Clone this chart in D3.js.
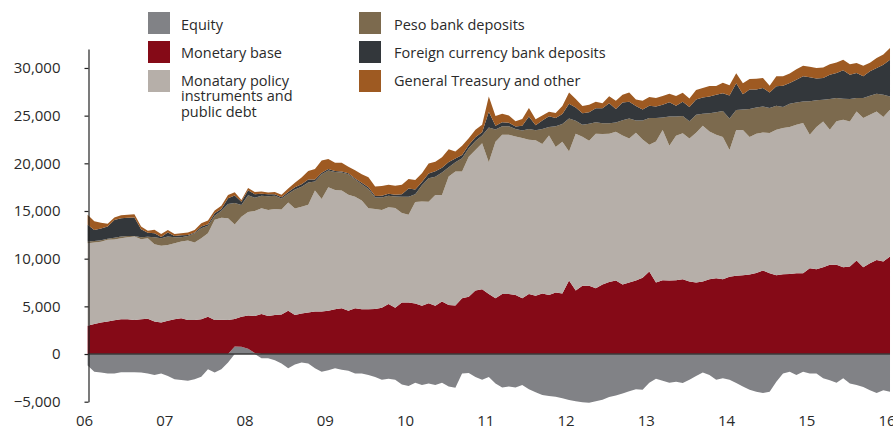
<!DOCTYPE html>
<html>
<head>
<meta charset="utf-8">
<script src="https://cdn.jsdelivr.net/npm/d3@7"></script>
<style>
  html, body { margin: 0; padding: 0; background: #ffffff; }
  svg { display: block; }
  text { font-family: "Open Sans", "DejaVu Sans", sans-serif; fill: #2a2a2a; }
</style>
</head>
<body>
<svg id="chart" width="893" height="430"></svg>
<script>
// ---------------- DATA (monthly, Jan 2006 – Jan 2016) ----------------
const startYear = 2006;
const yearLabels = ["06","07","08","09","10","11","12","13","14","15","16"];
const yTicks = [-5000, 0, 5000, 10000, 15000, 20000, 25000, 30000];

const seriesNames = ["Equity", "Monetary base", "Monatary policy instruments and public debt",
  "Peso bank deposits", "Foreign currency bank deposits", "General Treasury and other"];

const equity = [-1200,-1850,-1950,-2030,-2030,-1900,-1900,-1900,-1950,-2030,-2200,-2030,
  -2300,-2650,-2730,-2800,-2650,-2380,-1600,-1950,-1600,-900,800,750,
  550,100,-450,-450,-650,-1000,-1500,-1100,-900,-1000,-1500,-1850,
  -1700,-1500,-1650,-1750,-2030,-2030,-2200,-2400,-2700,-2600,-2700,-3200,
  -3350,-3000,-3250,-3100,-3250,-3000,-3400,-3550,-2050,-2000,-2400,-2700,
  -2400,-3100,-3500,-3400,-3500,-3250,-3700,-4000,-4300,-4400,-4480,-4650,
  -4830,-4950,-5050,-5100,-4950,-4800,-4500,-4350,-4150,-3900,-3700,-3750,
  -3000,-2600,-2800,-3000,-2900,-3050,-2700,-2300,-1950,-2200,-2700,-2550,
  -2700,-3050,-3400,-3750,-3950,-4100,-3950,-2900,-2050,-1850,-2200,-1850,
  -2050,-2050,-2550,-2750,-3000,-2550,-3100,-3250,-3450,-3800,-4100,-3800,
  -3950];

const monetaryBase = [2975,3150,3300,3400,3550,3640,3640,3570,3640,3700,3400,3300,
  3500,3640,3750,3570,3570,3640,3920,3570,3600,3570,2870,3150,
  3500,3900,4200,4000,4100,4150,4550,4100,4250,4350,4450,4450,
  4550,4700,4800,4550,4800,4700,4700,4720,4860,5250,4860,5400,
  5400,5300,5050,5320,5050,5500,5150,5100,5850,6000,6650,6800,
  6300,5850,6300,6300,6200,5850,6300,6100,6350,6200,6450,6350,
  7700,6650,7150,7150,6900,7300,7550,7700,7300,7500,7700,8000,
  8650,7500,7750,7700,7750,7850,7600,7500,7600,7850,7950,7850,
  8100,8200,8250,8350,8500,8750,8470,8260,8365,8400,8470,8470,
  9000,8900,9100,9350,9350,9100,9170,9800,9100,9520,9870,9700,
  10220];

const policyDebt = [8645,8540,8470,8575,8470,8505,8610,8750,8400,8435,8120,8050,
  7945,7980,8050,8330,8120,8505,8750,10500,10680,10675,9905,10500,
  10850,11000,11100,11100,11100,11000,11350,11150,11200,11300,12700,11800,
  12950,12500,12350,12150,11700,11400,10600,10500,10250,10150,10450,9400,
  9200,10650,10950,10660,11640,11190,13460,14050,13280,14690,14760,15310,
  13800,16400,16700,16700,16600,16800,16170,16310,15680,16730,15260,15925,
  13545,16450,15645,15225,16205,15785,15540,15610,15610,15100,15500,14500,
  13300,14800,15750,14150,15150,15300,15000,15700,16350,15500,15050,14900,
  13300,15300,15250,14400,14600,14490,14700,15260,15330,15400,15575,15750,
  14000,14910,15295,14175,15050,15470,15225,15645,15645,15575,15575,15155,
  15400];

const pesoDeposits = [175,175,175,105,175,175,140,70,210,175,735,805,
  875,630,455,490,980,1050,770,420,750,1500,2275,1225,
  1750,1400,1300,1450,1400,1150,900,2000,2100,2350,950,2600,
  1750,1900,1900,2150,1800,1700,2000,1200,1300,1200,1200,1700,
  1900,800,1700,2450,1900,2340,980,950,1400,880,940,800,
  3650,1300,900,900,800,800,1120,1050,1575,875,2170,1855,
  3465,1365,1260,1785,1190,1120,1120,980,1610,2100,1300,2000,
  2800,2450,1300,3050,2000,1800,1800,1900,1250,1900,2350,2750,
  3300,2100,2150,2950,2750,2730,2625,2520,2205,2450,2345,2275,
  3500,2800,2275,3220,2450,2205,2345,1400,2100,2000,1855,2345,
  1400];

const foreignDeposits = [1750,1155,1225,1295,1855,1925,1890,1925,840,420,420,105,
  420,140,210,105,70,175,175,280,175,595,770,350,
  525,350,200,200,150,150,200,250,250,300,200,150,
  150,100,100,100,100,150,200,150,200,200,200,250,
  850,500,350,500,570,500,550,400,350,350,390,340,
  1650,400,420,350,250,490,1330,525,875,1120,875,1050,
  1540,1400,1190,1190,1470,1575,2100,1400,1855,1750,1500,1150,
  1300,1200,1350,1500,1150,1500,1500,1600,1700,1750,1850,1850,
  2400,2800,1600,2050,1900,1925,1645,2030,2240,2170,2380,2625,
  2520,2275,2275,2555,2625,2975,2555,2625,2275,2555,2700,3150,
  3850];

const treasuryOther = [1050,900,600,280,280,315,315,350,280,210,350,315,
  280,210,210,245,280,350,385,280,350,350,350,175,
  245,245,250,200,250,250,350,450,700,900,1100,1300,
  1050,850,900,700,870,900,1050,1000,1000,950,950,1000,
  1000,1000,900,1050,1000,1110,1340,750,950,710,770,800,
  1600,1000,870,770,550,700,875,630,525,490,525,840,
  1190,875,770,805,700,525,735,875,805,980,700,900,
  900,900,900,900,1000,950,900,1000,1000,1100,900,1100,
  1100,1050,1150,1100,1120,1050,700,1050,1000,1000,1100,1100,
  1100,1100,1100,1100,1100,1100,1100,1050,1100,900,1050,1050,
  1225];

const colors = ["#818286", "#850a17", "#b6afa9", "#7c6a4e", "#33373b", "#9e5a22"];

// ---------------- BUILD TABLE ----------------
const keys = ["eq", "mb", "pd", "peso", "fx", "gt"];
const seriesArrays = [equity, monetaryBase, policyDebt, pesoDeposits, foreignDeposits, treasuryOther];
const table = equity.map((_, i) => {
  const row = { t: startYear + (i + 0.45) / 12 };
  keys.forEach((k, j) => row[k] = seriesArrays[j][i]);
  return row;
});

const stack = d3.stack().keys(keys).offset(d3.stackOffsetDiverging).order(d3.stackOrderNone);
const layers = stack(table);

// ---------------- SCALES ----------------
const svg = d3.select("#chart");
const x = d3.scaleLinear().domain([2006, 2016]).range([84.6, 887]);
const y = d3.scaleLinear().domain([-5000, 32000]).range([401.7, 48.9]);

const area = d3.area()
  .x(d => x(d.data.t))
  .y0(d => y(d[0]))
  .y1(d => y(d[1]))
  .curve(d3.curveLinear);

svg.append("g").selectAll("path")
  .data(layers)
  .join("path")
  .attr("d", area)
  .attr("fill", (d, i) => colors[i]);

// zero line
svg.append("line")
  .attr("x1", 88.5).attr("x2", x(table[table.length - 1].t))
  .attr("y1", y(0)).attr("y2", y(0))
  .attr("stroke", "#3a3a3a").attr("stroke-width", 1.6);

// y axis
const yAxis = d3.axisLeft(y)
  .tickValues(yTicks)
  .tickFormat(d3.format(","))
  .tickSize(4)
  .tickSizeOuter(0)
  .tickPadding(24);
const gy = svg.append("g").attr("transform", "translate(88.5,0)").call(yAxis);
gy.select(".domain").attr("stroke", "#222").attr("stroke-width", 1.2);
gy.selectAll(".tick line").attr("stroke", "#222").attr("stroke-width", 1.2);
gy.selectAll(".tick text")
  .attr("font-size", 15)
  .attr("fill", "#2a2a2a")
  .style("font-family", "'Open Sans', 'DejaVu Sans', sans-serif");

// x labels
svg.append("g").selectAll("text")
  .data(yearLabels)
  .join("text")
  .attr("x", (d, i) => x(2006 + i))
  .attr("y", 426)
  .attr("text-anchor", "middle")
  .attr("font-size", 15)
  .text(d => d);

// ---------------- LEGEND ----------------
const legendItems = [
  { lines: ["Equity"], c: colors[0], sx: 148, sy: 12, tx: 181, ty: 29.5 },
  { lines: ["Monetary base"], c: colors[1], sx: 148, sy: 41, tx: 181, ty: 57.5 },
  { lines: ["Monatary policy", "instruments and", "public debt"], c: colors[2], sx: 148, sy: 70, tx: 181, ty: 85.5 },
  { lines: ["Peso bank deposits"], c: colors[3], sx: 359, sy: 12, tx: 394, ty: 29.5 },
  { lines: ["Foreign currency bank deposits"], c: colors[4], sx: 359, sy: 41, tx: 394, ty: 57.5 },
  { lines: ["General Treasury and other"], c: colors[5], sx: 359, sy: 70, tx: 394, ty: 86 }
];
const lg = svg.append("g");
legendItems.forEach(it => {
  lg.append("rect").attr("x", it.sx).attr("y", it.sy).attr("width", 22).attr("height", 22).attr("fill", it.c);
  const t = lg.append("text").attr("x", it.tx).attr("y", it.ty).attr("font-size", 14.5);
  it.lines.forEach((l, k) => {
    t.append("tspan").attr("x", it.tx).attr("y", it.ty + k * 15.5).text(l);
  });
});
</script>
</body>
</html>
